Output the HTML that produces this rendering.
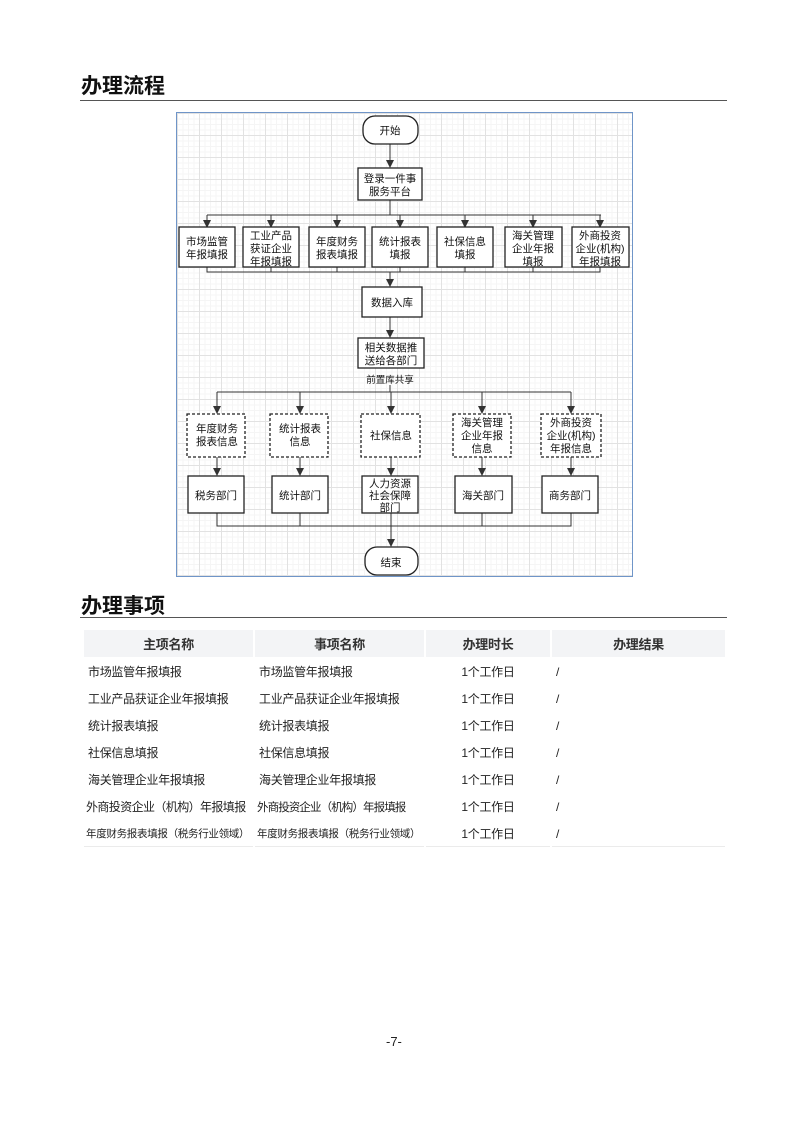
<!DOCTYPE html>
<html><head><meta charset="utf-8"><style>
body{margin:0;background:#fff;}
.pg{position:relative;width:793px;height:1122px;font-family:"Liberation Sans","Noto Sans CJK SC",sans-serif;color:#222;}
.h{position:absolute;left:81px;font-size:21px;font-weight:bold;color:#111;}
.hl{position:absolute;left:80px;width:647px;height:1px;background:#555;}
.frame{position:absolute;left:176px;top:112px;width:455px;height:463px;border:1px solid #6f95c8;
background-color:#fff;
background-image:linear-gradient(#e2e2e2 1px,transparent 1px),linear-gradient(90deg,#e2e2e2 1px,transparent 1px),linear-gradient(#f5f5f5 1px,transparent 1px),linear-gradient(90deg,#f5f5f5 1px,transparent 1px);
background-size:22px 22px,22px 22px,5.5px 5.5px,5.5px 5.5px;}
svg{position:absolute;left:0;top:0;}
svg text{font-family:"Liberation Sans","Noto Sans CJK SC",sans-serif;font-size:10.5px;fill:#111;text-anchor:middle;}
table{position:absolute;left:82px;top:628px;width:645px;border-collapse:collapse;font-size:12px;table-layout:fixed;}
td,th{border:2px solid #fff;background:#fff;height:25px;padding:0 4px;border-bottom:1px solid #ebebeb;white-space:nowrap;overflow:hidden;letter-spacing:-0.3px;}
th{background:#f3f4f6;height:27px;font-weight:bold;font-size:13px;color:#333;}
td.c{text-align:center;}
</style></head><body><div class="pg">
<div class="h" style="top:70px">办理流程</div>
<div class="hl" style="top:100px"></div>
<div class="frame"></div>
<svg width="793" height="1122">
<defs><marker id="a" markerWidth="8" markerHeight="8" refX="7" refY="4" orient="auto" markerUnits="userSpaceOnUse"><path d="M0,0 L8,4 L0,8z" fill="#333"/></marker></defs>
<g stroke="#333" stroke-width="1" fill="none">
<line x1="390" y1="144" x2="390" y2="167" marker-end="url(#a)"/>
<line x1="390" y1="200" x2="390" y2="215"/>
<line x1="207" y1="215" x2="601" y2="215"/>
<line x1="207" y1="215" x2="207" y2="227" marker-end="url(#a)"/>
<line x1="271" y1="215" x2="271" y2="227" marker-end="url(#a)"/>
<line x1="337" y1="215" x2="337" y2="227" marker-end="url(#a)"/>
<line x1="400" y1="215" x2="400" y2="227" marker-end="url(#a)"/>
<line x1="465" y1="215" x2="465" y2="227" marker-end="url(#a)"/>
<line x1="533" y1="215" x2="533" y2="227" marker-end="url(#a)"/>
<line x1="600" y1="215" x2="600" y2="227" marker-end="url(#a)"/>
<path d="M207,267V272H600V267M271,267V272M337,267V272M400,267V272M465,267V272M533,267V272"/>
<line x1="390" y1="272" x2="390" y2="286" marker-end="url(#a)"/>
<line x1="390" y1="317" x2="390" y2="337" marker-end="url(#a)"/>
<line x1="390" y1="385" x2="390" y2="392"/>
<line x1="217" y1="392" x2="571" y2="392"/>
<line x1="217" y1="392" x2="217" y2="413" marker-end="url(#a)"/>
<line x1="300" y1="392" x2="300" y2="413" marker-end="url(#a)"/>
<line x1="391" y1="392" x2="391" y2="413" marker-end="url(#a)"/>
<line x1="482" y1="392" x2="482" y2="413" marker-end="url(#a)"/>
<line x1="571" y1="392" x2="571" y2="413" marker-end="url(#a)"/>
<line x1="217" y1="457" x2="217" y2="475" marker-end="url(#a)"/>
<line x1="300" y1="457" x2="300" y2="475" marker-end="url(#a)"/>
<line x1="391" y1="457" x2="391" y2="475" marker-end="url(#a)"/>
<line x1="482" y1="457" x2="482" y2="475" marker-end="url(#a)"/>
<line x1="571" y1="457" x2="571" y2="475" marker-end="url(#a)"/>
<path d="M217,513V526H571V513M300,513V526M391,513V526M482,513V526"/>
<line x1="391" y1="526" x2="391" y2="546" marker-end="url(#a)"/>
</g>
<g stroke="#222" stroke-width="1.3" fill="#fff">
<rect x="363" y="116" width="55" height="28" rx="12"/>
<rect x="358" y="168" width="64" height="32"/>
<rect x="179" y="227" width="56" height="40"/>
<rect x="243" y="227" width="56" height="40"/>
<rect x="309" y="227" width="56" height="40"/>
<rect x="372" y="227" width="56" height="40"/>
<rect x="437" y="227" width="56" height="40"/>
<rect x="505" y="227" width="57" height="40"/>
<rect x="572" y="227" width="57" height="40"/>
<rect x="362" y="287" width="60" height="30"/>
<rect x="358" y="338" width="66" height="30"/>
<rect x="188" y="476" width="56" height="37"/>
<rect x="272" y="476" width="56" height="37"/>
<rect x="362" y="476" width="56" height="37"/>
<rect x="455" y="476" width="57" height="37"/>
<rect x="542" y="476" width="56" height="37"/>
<rect x="365" y="547" width="53" height="28" rx="12"/>
</g>
<g stroke="#222" stroke-width="1.3" fill="#fff" stroke-dasharray="3,2">
<rect x="187" y="414" width="58" height="43"/>
<rect x="270" y="414" width="58" height="43"/>
<rect x="361" y="414" width="59" height="43"/>
<rect x="453" y="414" width="58" height="43"/>
<rect x="541" y="414" width="60" height="43"/>
</g>
<text x="390" y="134">开始</text>
<text x="390" y="182">登录一件事</text><text x="390" y="195">服务平台</text>
<text x="207" y="245">市场监管</text><text x="207" y="258">年报填报</text>
<text x="271" y="239">工业产品</text><text x="271" y="252">获证企业</text><text x="271" y="265">年报填报</text>
<text x="337" y="245">年度财务</text><text x="337" y="258">报表填报</text>
<text x="400" y="245">统计报表</text><text x="400" y="258">填报</text>
<text x="465" y="245">社保信息</text><text x="465" y="258">填报</text>
<text x="533" y="239">海关管理</text><text x="533" y="252">企业年报</text><text x="533" y="265">填报</text>
<text x="600" y="239">外商投资</text><text x="600" y="252">企业(机构)</text><text x="600" y="265">年报填报</text>
<text x="392" y="306">数据入库</text>
<text x="391" y="351">相关数据推</text><text x="391" y="364">送给各部门</text>
<text x="390" y="383" style="font-size:9.5px">前置库共享</text>
<text x="217" y="432">年度财务</text><text x="217" y="445">报表信息</text>
<text x="300" y="432">统计报表</text><text x="300" y="445">信息</text>
<text x="391" y="439">社保信息</text>
<text x="482" y="426">海关管理</text><text x="482" y="439">企业年报</text><text x="482" y="452">信息</text>
<text x="571" y="426">外商投资</text><text x="571" y="439">企业(机构)</text><text x="571" y="452">年报信息</text>
<text x="216" y="499">税务部门</text>
<text x="300" y="499">统计部门</text>
<text x="390" y="487">人力资源</text><text x="390" y="499">社会保障</text><text x="390" y="511">部门</text>
<text x="483" y="499">海关部门</text>
<text x="570" y="499">商务部门</text>
<text x="391" y="566">结束</text>
</svg>
<div class="h" style="top:590px">办理事项</div>
<div class="hl" style="top:617px"></div>
<table>
<colgroup><col style="width:171px"><col style="width:171px"><col style="width:126px"><col></colgroup>
<tr><th>主项名称</th><th>事项名称</th><th>办理时长</th><th>办理结果</th></tr>
<tr><td>市场监管年报填报</td><td>市场监管年报填报</td><td class="c">1个工作日</td><td>/</td></tr>
<tr><td>工业产品获证企业年报填报</td><td>工业产品获证企业年报填报</td><td class="c">1个工作日</td><td>/</td></tr>
<tr><td>统计报表填报</td><td>统计报表填报</td><td class="c">1个工作日</td><td>/</td></tr>
<tr><td>社保信息填报</td><td>社保信息填报</td><td class="c">1个工作日</td><td>/</td></tr>
<tr><td>海关管理企业年报填报</td><td>海关管理企业年报填报</td><td class="c">1个工作日</td><td>/</td></tr>
<tr><td style="letter-spacing:-0.6px;padding:0 2px">外商投资企业（机构）年报填报</td><td style="letter-spacing:-0.9px;padding:0 2px;font-size:11.5px">外商投资企业（机构）年报填报</td><td class="c">1个工作日</td><td>/</td></tr>
<tr><td style="font-size:10.5px;padding:0 2px">年度财务报表填报（税务行业领域）</td><td style="font-size:10.5px;padding:0 2px">年度财务报表填报（税务行业领域）</td><td class="c">1个工作日</td><td>/</td></tr>
</table>
<div style="position:absolute;left:386px;top:1034px;font-size:13px;">-7-</div>
</div></body></html>
